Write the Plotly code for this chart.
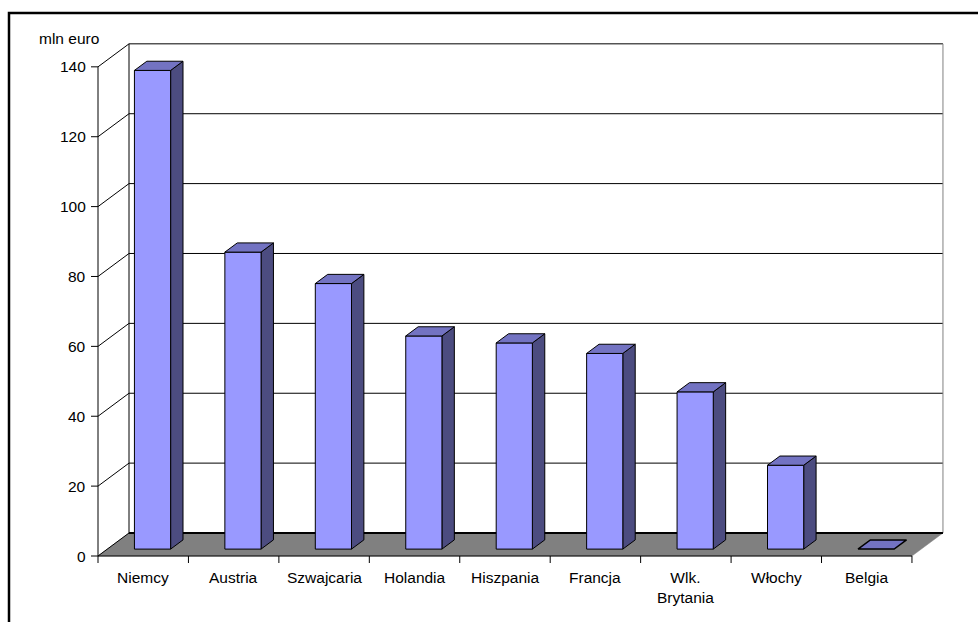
import plotly.graph_objects as go

# ---- data ----
categories = ["Niemcy", "Austria", "Szwajcaria", "Holandia", "Hiszpania",
              "Francja", "Wlk.<br>Brytania", "Włochy", "Belgia"]
values = [137, 85, 76, 61, 59, 56, 45, 24, 0]
y_ticks = [0, 20, 40, 60, 80, 100, 120, 140]
y_title = "mln euro"

# ---- geometry of the pseudo-3D box ----
W, H = 978, 622
PX_X = 90.44          # pixels per category
PX_Y = 3.494          # pixels per value unit
ORIGIN_PX = (98, 556)  # pixel position of (0, 0) on the front plane
DX = 31 / PX_X        # depth offset, in category units
DY = 23 / PX_Y        # depth offset, in value units
N = len(categories)
YMAX = y_ticks[-1]
BAR_L, BAR_R = 0.3, 0.7       # bar extent within a category
DEPTH_F, DEPTH_B = 0.3, 0.7   # bar extent along depth

FRONT = "#9999FF"
TOP = "#7373C2"
SIDE = "#4C4C80"
FLOOR = "#808080"
FONT = dict(family="Liberation Sans, Arial, sans-serif", size=15.5, color="black")


def proj(x, v, f):
    """Project (category x, value v, depth fraction f) onto the drawing plane."""
    return x + f * DX, v + f * DY


def poly(points, fill, line_color="black", width=1):
    xs = [p[0] for p in points] + [points[0][0]]
    ys = [p[1] for p in points] + [points[0][1]]
    return go.Scatter(x=xs, y=ys, mode="lines", fill="toself", fillcolor=fill,
                      line=dict(color=line_color, width=width),
                      hoverinfo="skip", showlegend=False)


def polyline(xs, ys, color="black", width=1):
    return go.Scatter(x=xs, y=ys, mode="lines",
                      line=dict(color=color, width=width),
                      hoverinfo="skip", showlegend=False)


fig = go.Figure()

# gridlines: diagonal on the side wall, horizontal on the back wall
gx, gy = [], []
for v in y_ticks[1:]:
    bx, by = proj(0, v, 1)
    ex, ey = proj(N, v, 1)
    gx += [0, bx, ex, None]
    gy += [v, by, ey, None]
fig.add_trace(polyline(gx, gy, "black", 1))

# back-wall vertical edges
lx, ly = proj(0, 0, 1)
lx2, ly2 = proj(0, YMAX, 1)
fig.add_trace(polyline([lx, lx2], [ly, ly2], "black", 1))
rx, ry = proj(N, 0, 1)
rx2, ry2 = proj(N, YMAX, 1)
fig.add_trace(polyline([rx, rx2], [ry, ry2], "#808080", 1))

# floor
floor_pts = [proj(0, 0, 0), proj(N, 0, 0), proj(N, 0, 1), proj(0, 0, 1)]
fig.add_trace(poly(floor_pts, FLOOR, FLOOR, 0.5))
fx0, fy0 = proj(0, 0, 1)
fx1, fy1 = proj(N, 0, 1)
fig.add_trace(polyline([fx0, fx1], [fy0, fy1], "black", 2.2))
fig.add_trace(polyline([0, fx0], [0, fy0], "black", 1))

# value axis line and category axis line
fig.add_trace(polyline([0, 0], [0, YMAX], "black", 1))
fig.add_trace(polyline([0, N], [0, 0], "black", 1))

# tick marks
tx, ty = [], []
for v in y_ticks:
    tx += [-7 / PX_X, 0, None]
    ty += [v, v, None]
for k in range(N + 1):
    tx += [k, k, None]
    ty += [0, -7 / PX_Y, None]
fig.add_trace(polyline(tx, ty, "black", 1))

# bars
for i, v in enumerate(values):
    l, r = i + BAR_L, i + BAR_R
    front = [proj(l, 0, DEPTH_F), proj(r, 0, DEPTH_F), proj(r, v, DEPTH_F), proj(l, v, DEPTH_F)]
    side = [proj(r, 0, DEPTH_F), proj(r, 0, DEPTH_B), proj(r, v, DEPTH_B), proj(r, v, DEPTH_F)]
    top = [proj(l, v, DEPTH_F), proj(r, v, DEPTH_F), proj(r, v, DEPTH_B), proj(l, v, DEPTH_B)]
    if v > 0:
        fig.add_trace(poly(side, SIDE))
        fig.add_trace(poly(front, FRONT))
    fig.add_trace(poly(top, TOP, "black", 1.5 if v == 0 else 1))

# labels
ann = []
for v in y_ticks:
    ann.append(dict(x=-10 / PX_X, y=v, text=str(v), showarrow=False,
                    xanchor="right", yanchor="middle", font=FONT))
for i, c in enumerate(categories):
    ann.append(dict(x=i + 0.5, y=-11 / PX_Y, text=c, showarrow=False,
                    xanchor="center", yanchor="top", font=FONT))
ann.append(dict(x=-61 / PX_X, y=(ORIGIN_PX[1] - 38) / PX_Y, text=y_title,
                showarrow=False, xanchor="left", yanchor="middle", font=FONT))

fig.update_layout(
    width=W, height=H, autosize=False,
    margin=dict(l=0, r=0, t=0, b=0),
    paper_bgcolor="white", plot_bgcolor="white",
    xaxis=dict(range=[-ORIGIN_PX[0] / PX_X, (W - ORIGIN_PX[0]) / PX_X],
               visible=False, fixedrange=True),
    yaxis=dict(range=[-(H - ORIGIN_PX[1]) / PX_Y, ORIGIN_PX[1] / PX_Y],
               visible=False, fixedrange=True),
    annotations=ann,
    shapes=[dict(type="rect", xref="paper", yref="paper",
                 x0=9 / W, x1=1.02, y0=-0.02, y1=1 - 13 / H,
                 line=dict(color="black", width=2.5))],
)

fig.write_html("out.html")
